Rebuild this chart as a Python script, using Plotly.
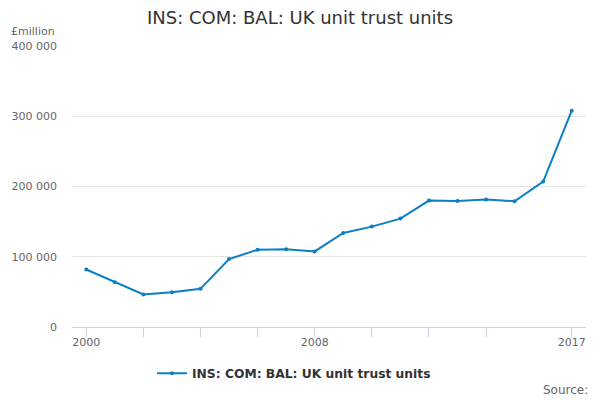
import plotly.graph_objects as go

years = list(range(2000, 2018))
values = [81900, 63800, 46200, 49500, 54300, 96700, 110000, 110500, 107600,
          133800, 142900, 154300, 180000, 179500, 181400, 179000, 207000, 308000]
series_name = "INS: COM: BAL: UK unit trust units"
tick_years = [2000, 2002, 2004, 2006, 2008, 2010, 2012, 2014, 2017]
tick_text = ["2000", "", "", "", "2008", "", "", "", "2017"]
y_ticks = [0, 100000, 200000, 300000, 400000]

font_family = "DejaVu Sans, sans-serif"
blue = "#0b7fc4"

fig = go.Figure()
fig.add_trace(go.Scatter(
    x=years, y=values, mode="lines+markers", name=series_name,
    line=dict(color=blue, width=2), marker=dict(color=blue, size=4),
))

fig.update_layout(
    width=600, height=400,
    margin=dict(l=72, r=14, t=46, b=73),
    paper_bgcolor="white", plot_bgcolor="white",
    separators=". ",
    font=dict(family=font_family, color="#666666", size=11),
    title=dict(text="INS: COM: BAL: UK unit trust units", x=0.5, xanchor="center",
               y=1 - 18 / 400, yanchor="middle",
               font=dict(size=18, color="#333333", family=font_family)),
    showlegend=True,
    legend=dict(orientation="h", x=(294 - 72) / 514, xanchor="center", y=-0.165,
                yanchor="middle", itemwidth=30,
                font=dict(size=12.3, color="#333333", family=font_family, weight="bold"),
                bgcolor="rgba(0,0,0,0)"),
    xaxis=dict(range=[1999.5, 2017.5], tickmode="array", tickvals=tick_years,
               ticktext=tick_text, ticks="outside", ticklen=9, tickcolor="#ccd6eb",
               ticklabelstandoff=-4,
               showgrid=False, showline=True, linecolor="#ccd6eb", linewidth=1,
               zeroline=False, tickfont=dict(size=11, color="#666666"), fixedrange=True),
    yaxis=dict(range=[0, 400000], tickmode="array", tickvals=y_ticks,
               tickformat=",d", showgrid=True, gridcolor="#e6e6e6", zeroline=False,
               showline=False, ticks="", ticklabelstandoff=14,
               tickfont=dict(size=11, color="#666666"), fixedrange=True),
    annotations=[
        dict(text="£million", xref="paper", yref="paper", x=-15 / 514, y=1 + 14 / 281,
             xanchor="right", yanchor="middle", showarrow=False,
             font=dict(size=11, color="#666666", family=font_family)),
        dict(text="Source:", xref="paper", yref="paper", x=1 + 4 / 514, y=-63 / 281,
             xanchor="right", yanchor="middle", showarrow=False,
             font=dict(size=12, color="#666666", family=font_family)),
    ],
)

fig.write_html("out.html", config={"displayModeBar": False},
               post_script="document.body.style.margin='0';document.body.style.overflow='hidden';")
